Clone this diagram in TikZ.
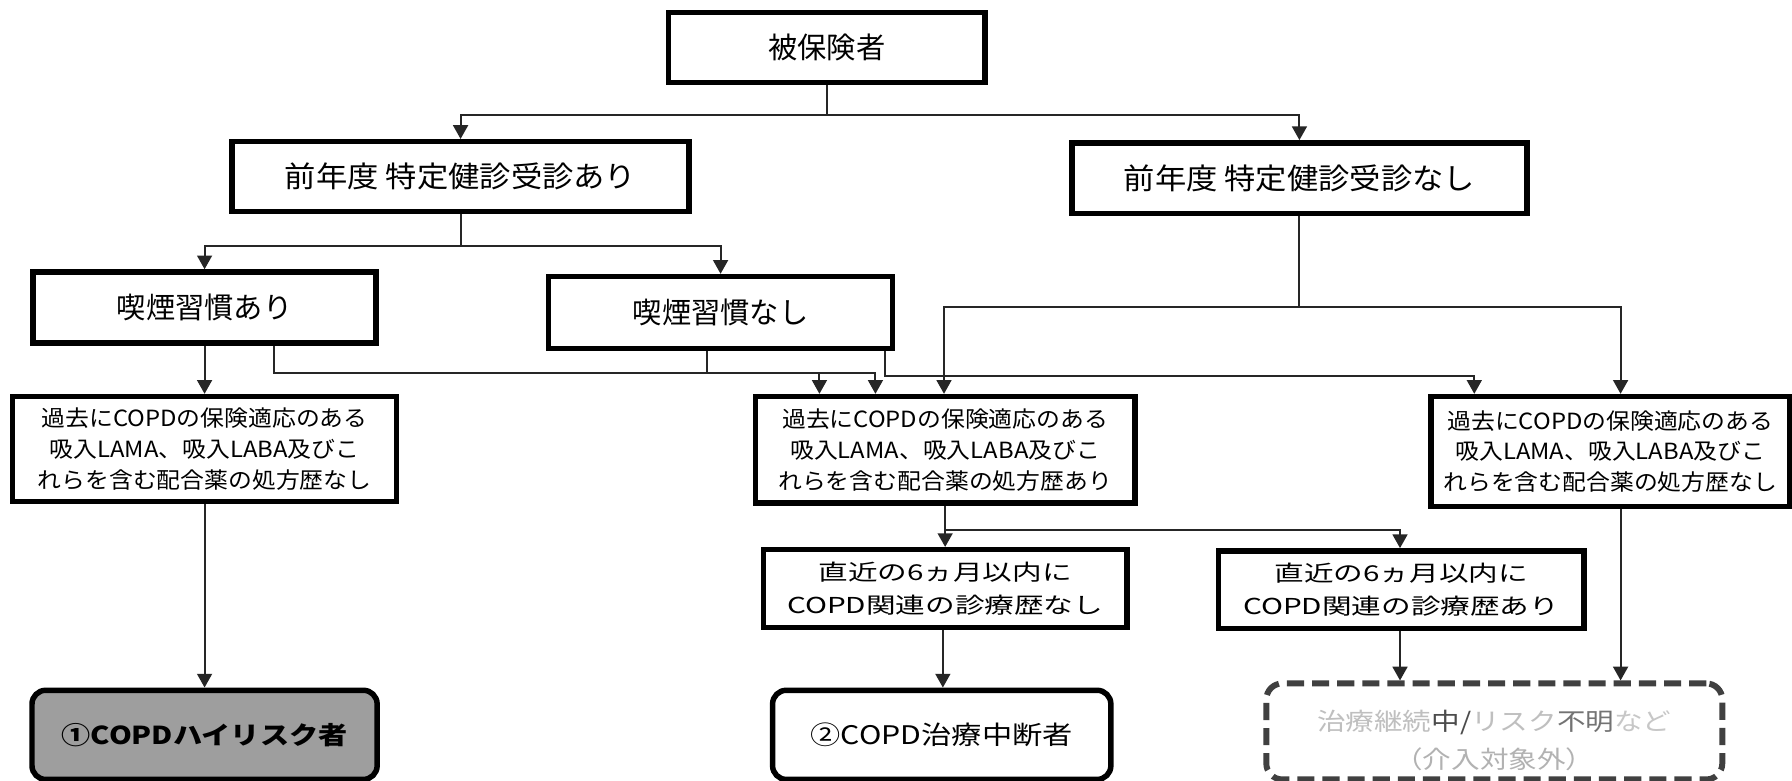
\documentclass[tikz,border=0pt]{standalone}
\usepackage{fontspec}
\setmainfont{Noto Sans CJK JP}[FakeStretch=1.07]
\newfontfamily\plainfont{Noto Sans CJK JP}
\newfontfamily\widefont{Noto Sans CJK JP}[FakeStretch=1.35]
\newfontfamily\botfont{Noto Sans CJK JP}[FakeStretch=1.18]
\usetikzlibrary{arrows.meta}
\begin{document}
\begin{tikzpicture}[x=0.5pt,y=-0.5pt,
  box/.style={draw=black,line width=2.4pt,fill=white,inner sep=0pt,align=center},
  big/.style={font=\plainfont\fontsize{12.8pt}{15pt}\selectfont},
  bigw/.style={font=\fontsize{12.8pt}{15pt}\selectfont},
  mid/.style={font=\widefont\fontsize{9.6pt}{14.5pt}\selectfont},
  small/.style={font=\fontsize{9.75pt}{13.5pt}\selectfont},
  conn/.style={draw=black!85,line width=0.85pt},
  arr/.style={conn,-{Triangle[length=6pt,width=6.5pt]}},
  endbox/.style={draw=black,line width=2.4pt,rounded corners=6pt,inner sep=0pt,align=center},
  dashbox/.style={draw=black!75,line width=2.6pt,dash pattern=on 7.5pt off 3.5pt,rounded corners=7pt,inner sep=0pt},
  lbl/.style={inner sep=0pt,align=center}]
\useasboundingbox (0,0) rectangle (1568,683);
\fill[white] (0,0) rectangle (1568,683);

% nodes
\node[box,big,minimum width=138.5pt,minimum height=30.5pt] (ins) at (723.5,41.5) {被保険者};
\node[box,bigw,minimum width=200pt,minimum height=30.5pt] (a1) at (403,154.5) {前年度 特定健診受診あり};
\node[box,bigw,minimum width=199pt,minimum height=31pt] (a2) at (1137,156) {前年度 特定健診受診なし};
\node[box,big,minimum width=150pt,minimum height=31pt] (s1) at (179,269) {喫煙習慣あり};
\node[box,big,minimum width=150.5pt,minimum height=31.5pt] (s2) at (630.5,273.5) {喫煙習慣なし};
\node[box,small,minimum width=168pt,minimum height=46pt] (p1) at (179,393) {過去にCOPDの保険適応のある\\吸入LAMA、吸入LABA及びこ\\れらを含む配合薬の処方歴なし};
\node[box,small,minimum width=166pt,minimum height=46.5pt] (p2) at (827,393.5) {過去にCOPDの保険適応のある\\吸入LAMA、吸入LABA及びこ\\れらを含む配合薬の処方歴あり};
\node[box,small,minimum width=157pt,minimum height=48pt] (p3) at (1409,395) {過去にCOPDの保険適応のある\\吸入LAMA、吸入LABA及びこ\\れらを含む配合薬の処方歴なし};
\node[box,mid,minimum width=159pt,minimum height=34pt] (r1) at (827,515) {直近の6ヵ月以内に\\COPD関連の診療歴なし};
\node[box,mid,minimum width=160pt,minimum height=34pt] (r2) at (1226,516) {直近の6ヵ月以内に\\COPD関連の診療歴あり};
\node[endbox,fill=black!38,minimum width=151pt,minimum height=39pt,font=\botfont\fontsize{10.8pt}{12pt}\selectfont\bfseries] (o1) at (179,643) {①COPDハイリスク者};
\node[endbox,fill=white,minimum width=148pt,minimum height=39pt,font=\botfont\fontsize{11.2pt}{12pt}\selectfont] (o2) at (824,643) {②COPD治療中断者};
\node[dashbox,fill=white,minimum width=199.5pt,minimum height=42pt] (o3) at (1307.5,640) {};
\node[lbl,font=\botfont\fontsize{10.6pt}{16.5pt}\selectfont] (o3t) at (o3.center) [yshift=-4pt] {\textcolor{black!25}{治療継続}\textcolor{black!70}{中/}\textcolor{black!25}{リスク}\textcolor{black!55}{不明}\textcolor{black!22}{など}\\\textcolor{black!30}{（介入対象外）}};

% connectors
\draw[arr] (ins.south) -- ++(0,26) -| (a1.north);
\draw[arr] (ins.south) -- ++(0,26) -| (a2.north);
\draw[arr] (a1.south) -- ++(0,28) -| (s1.north);
\draw[arr] (a1.south) -- ++(0,28) -| (s2.north);
\draw[arr] (a2.south) -- ++(0,79) -| (p2.north -| 826,0);
\draw[arr] (a2.south) -- ++(0,79) -| (p3.north -| 1418,0);
\draw[arr] (s1.south) -- (p1.north);
\draw[arr] (s1.south -| 240,0) -- ++(0,24) -| (p2.north -| 766,0);
\draw[arr] (s2.south -| 619,0) -- ++(0,19) -| (p2.north -| 717,0);
\draw[arr] (s2.south -| 774,0) -- ++(0,22) -| (p3.north -| 1290,0);
\draw[arr] (p1.south) -- (o1.north);
\draw[arr] (p2.south) -- ++(0,21) -| (r1.north);
\draw[arr] (p2.south) -- ++(0,21) -| (r2.north -| 1225,0);
\draw[arr] (r1.south -| 825,0) -- (o2.north -| 825,0);
\draw[arr] (r2.south -| 1225,0) -- (o3.north -| 1225,0);
\draw[arr] (p3.south -| 1418,0) -- (o3.north -| 1418,0);
\end{tikzpicture}
\end{document}
